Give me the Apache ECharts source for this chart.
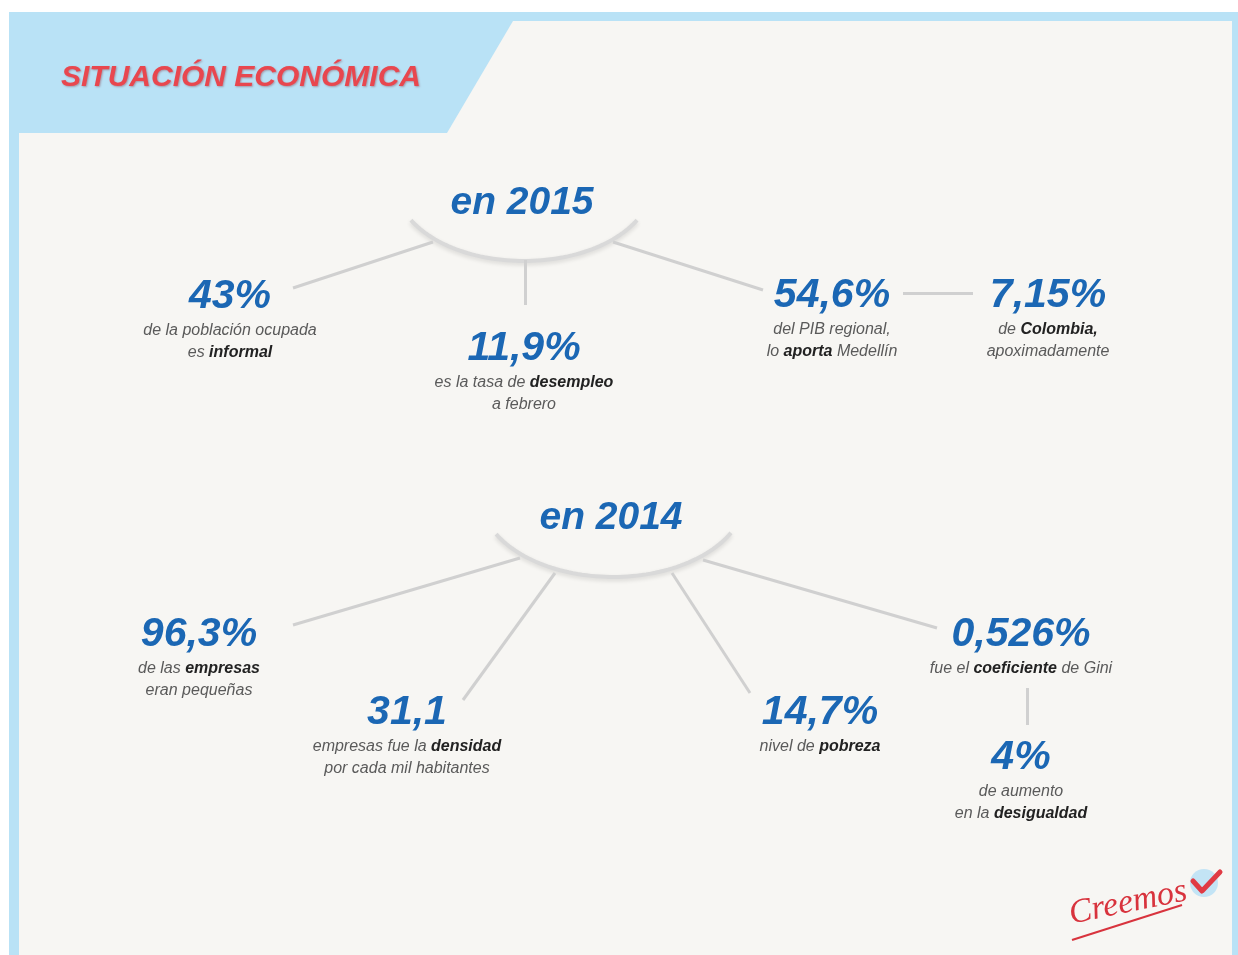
<!DOCTYPE html>
<html>
<head>
<meta charset="utf-8">
<script src="https://cdn.jsdelivr.net/npm/echarts@6/dist/echarts.min.js"></script>
<style>
  html, body { margin: 0; padding: 0; background: #ffffff; }
  #chart { width: 1238px; height: 955px; }
</style>
</head>
<body>
<div id="chart"></div>
<script>
// contenido
const title = 'SITUACIÓN ECONÓMICA';
const yearLabels = ['en 2015', 'en 2014'];
const figures2015 = ['43%', '11,9%', '54,6%', '7,15%'];
const notes2015 = [
    'de la población ocupada\nes *informal*',
    'es la tasa de *desempleo*\na febrero',
    'del PIB regional,\nlo *aporta* Medellín',
    'de *Colombia,*\napoximadamente'
];
const figures2014 = ['96,3%', '31,1', '14,7%', '0,526%', '4%'];
const notes2014 = [
    'de las *empresas*\neran pequeñas',
    'empresas fue la *densidad*\npor cada mil habitantes',
    'nivel de *pobreza*',
    'fue el *coeficiente* de Gini',
    'de aumento\nen la *desigualdad*'
];

// disposición (centro de cada cifra)
const yearPos = [[522, 203], [611, 518]];
const figurePos2015 = [[230, 296], [524, 348], [832, 295], [1048, 295]];
const figurePos2014 = [[199, 634], [407, 712], [820, 712], [1021, 634], [1021, 757]];
// cx, cy, rx, ry, ángulo del extremo
const arcShape = [[524, 184, 128, 77, 28], [613, 495, 133, 82, 27.5]];
const connectors = [
    [[433, 242], [293, 288]], [[525, 260], [525, 305]], [[613, 242], [763, 290]], [[903, 293], [973, 293]],
    [[520, 558], [293, 625]], [[555, 573], [463, 700]], [[672, 573], [750, 693]], [[703, 560], [937, 628]],
    [[1027, 688], [1027, 725]]
];

function toRich(figure, note) {
    const lines = note.split('\n').map(function (line) {
        return line.split('*').map(function (part, i) {
            return part ? '{' + (i % 2 ? 'b' : 'd') + '|' + part + '}' : '';
        }).join('');
    });
    return ['{n|' + figure + '}'].concat(lines).join('\n');
}

const statData = figures2015.map(function (f, i) {
    return { value: figurePos2015[i], text: toRich(f, notes2015[i]) };
}).concat(figures2014.map(function (f, i) {
    return { value: figurePos2014[i], text: toRich(f, notes2014[i]) };
}));

const yearData = yearLabels.map(function (y, i) {
    return { value: yearPos[i], text: y };
});

const blue = '#1b67b4';
const chart = echarts.init(document.getElementById('chart'));

chart.setOption({
    animation: false,
    title: {
        text: title,
        left: 56,
        top: 58,
        textStyle: {
            color: '#e8474f', fontSize: 30, fontWeight: 'bold', fontStyle: 'italic',
            fontFamily: 'Liberation Sans',
            textShadowColor: 'rgba(130,20,30,0.35)', textShadowBlur: 2, textShadowOffsetX: 1, textShadowOffsetY: 1
        }
    },
    grid: { left: 0, right: 0, top: 0, bottom: 0 },
    xAxis: { type: 'value', min: 0, max: 1238, show: false },
    yAxis: { type: 'value', min: 0, max: 955, inverse: true, show: false },
    graphic: [
        { type: 'rect', z: 0, shape: { x: 9, y: 12, width: 1229, height: 943 }, style: { fill: '#b9e2f6' } },
        { type: 'rect', z: 0, shape: { x: 19, y: 21, width: 1213, height: 934 }, style: { fill: '#f7f6f3' } },
        { type: 'polygon', z: 0, shape: { points: [[19, 21], [513, 21], [447, 133], [19, 133]] }, style: { fill: '#b9e2f6' } },
        // logo
        { type: 'text', z: 1, x: 1128, y: 903, rotation: 0.2,
          style: { text: 'Creemos', fill: '#d8333d', font: 'italic 34px "Liberation Serif"', align: 'center', verticalAlign: 'middle' } },
        { type: 'bezierCurve', z: 1,
          shape: { x1: 1072, y1: 940, x2: 1182, y2: 905, cpx1: 1110, cpy1: 928 },
          style: { stroke: '#d8333d', lineWidth: 2, fill: null } },
        { type: 'circle', z: 1, shape: { cx: 1204, cy: 883, r: 14 }, style: { fill: '#c3e4f5' } },
        { type: 'polyline', z: 2, shape: { points: [[1193, 881], [1202, 891], [1220, 872]] },
          style: { stroke: '#e03b44', lineWidth: 5, lineCap: 'round', lineJoin: 'round', fill: null } }
    ],
    series: [
        {
            type: 'custom',
            z: 3,
            data: arcShape,
            renderItem: function (params, api) {
                const cx = api.value(0), cy = api.value(1), rx = api.value(2), ry = api.value(3), a = api.value(4);
                const pts = [];
                for (let t = a; t <= 180 - a + 0.01; t += 2) {
                    const r = t * Math.PI / 180;
                    pts.push(api.coord([cx + rx * Math.cos(r), cy + ry * Math.sin(r)]));
                }
                return {
                    type: 'polyline',
                    shape: { points: pts },
                    style: { stroke: '#d9d9d9', lineWidth: 4, fill: null,
                        shadowColor: 'rgba(0,0,0,0.12)', shadowBlur: 4, shadowOffsetY: 2 }
                };
            }
        },
        {
            type: 'lines',
            coordinateSystem: 'cartesian2d',
            z: 3,
            data: connectors.map(function (c) { return { coords: c }; }),
            lineStyle: { color: '#d0d0d0', width: 3, opacity: 1 }
        },
        {
            type: 'scatter',
            z: 5,
            symbolSize: 1,
            itemStyle: { color: 'transparent', opacity: 1 },
            data: yearData,
            label: {
                show: true,
                position: 'inside',
                formatter: function (p) { return p.data.text; },
                color: blue, fontSize: 39, fontWeight: 'bold', fontStyle: 'italic',
                fontFamily: 'Liberation Sans'
            }
        },
        {
            type: 'scatter',
            z: 5,
            symbolSize: 1,
            itemStyle: { color: 'transparent', opacity: 1 },
            data: statData,
            label: {
                show: true,
                position: 'bottom',
                distance: 0,
                offset: [0, -23],
                align: 'center',
                formatter: function (p) { return p.data.text; },
                rich: {
                    n: { color: blue, fontSize: 41, fontWeight: 'bold', fontStyle: 'italic', fontFamily: 'Liberation Sans', lineHeight: 46 },
                    d: { color: '#5a5a5a', fontSize: 16, fontStyle: 'italic', fontFamily: 'Liberation Sans', lineHeight: 22 },
                    b: { color: '#222222', fontSize: 16, fontWeight: 'bold', fontStyle: 'italic', fontFamily: 'Liberation Sans', lineHeight: 22 }
                }
            }
        }
    ]
});
</script>
</body>
</html>
